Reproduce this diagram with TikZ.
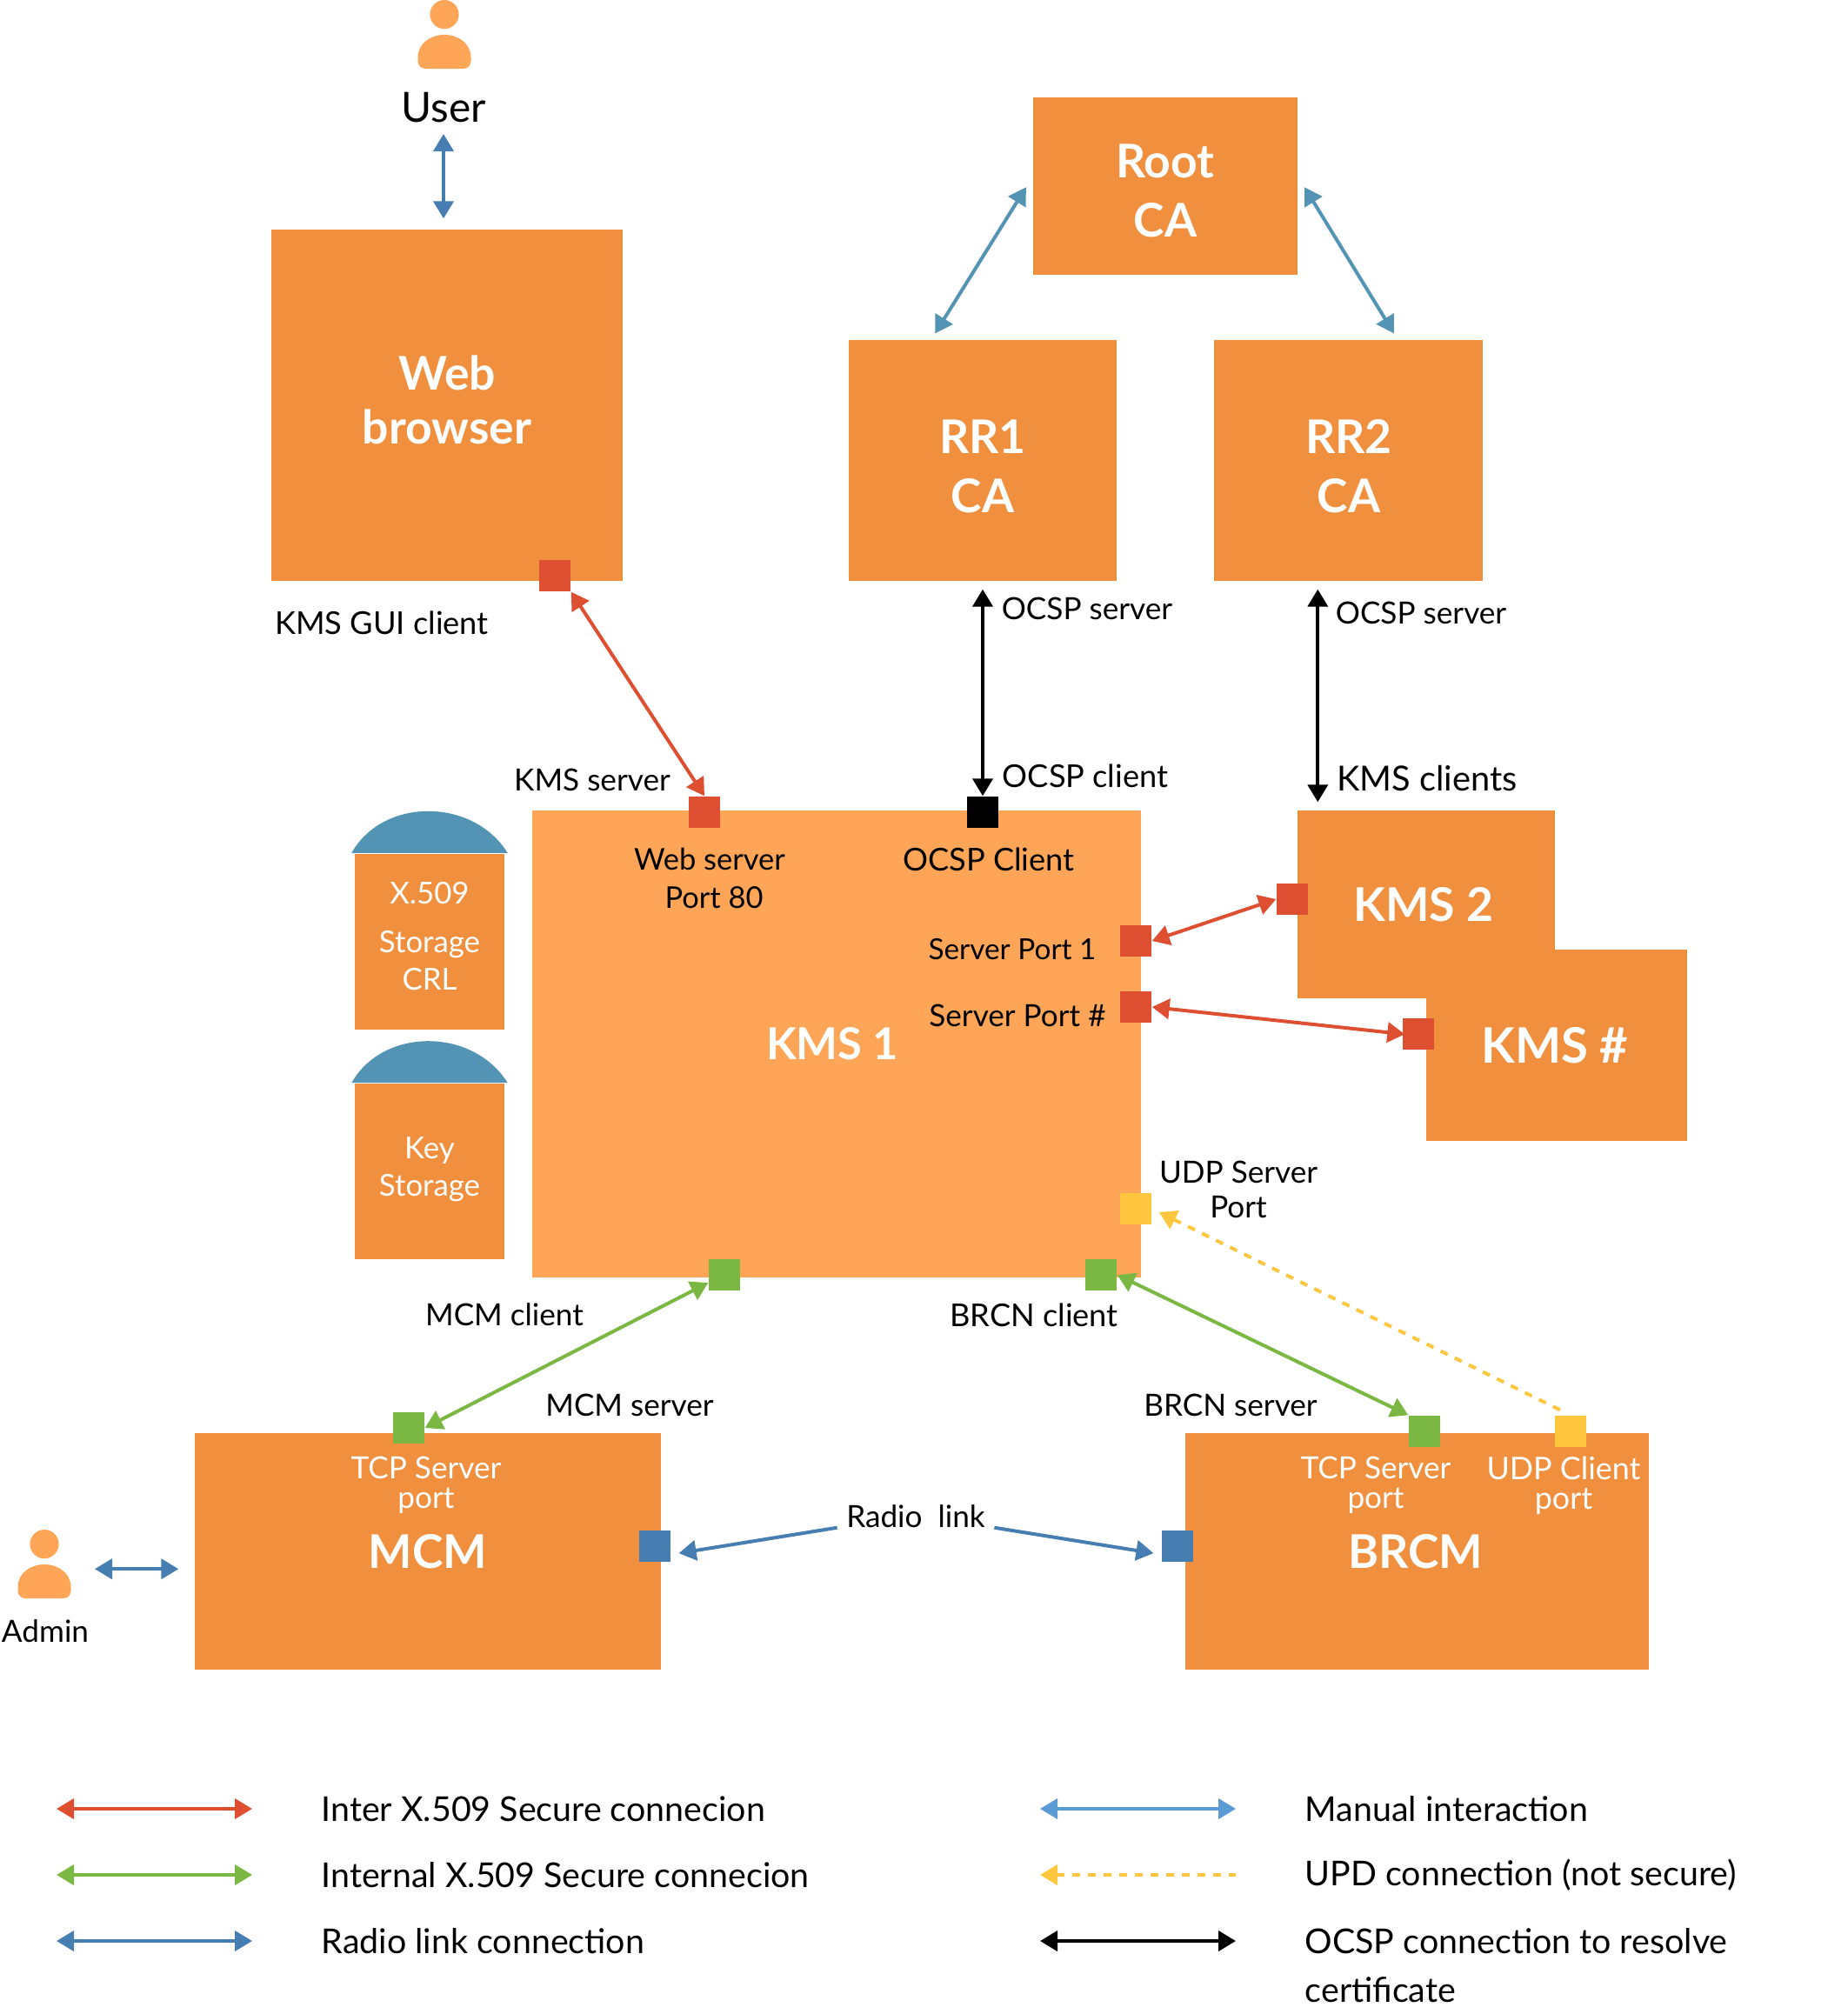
\documentclass[tikz,border=0pt]{standalone}
\usepackage{fontspec}
\setmainfont{Lato}
\usepackage{tikz}
\usetikzlibrary{positioning,arrows.meta,calc}
\definecolor{boxorange}{HTML}{F0903F}
\definecolor{kmsorange}{HTML}{FFA558}
\definecolor{domeblue}{HTML}{5394B4}
\definecolor{secred}{HTML}{DE4E31}
\definecolor{intgreen}{HTML}{7AB843}
\definecolor{udpyellow}{HTML}{FFC73F}
\definecolor{radioblue}{HTML}{467EB1}
\definecolor{manualblue}{HTML}{5B9BD5}

\begin{document}
\begin{tikzpicture}[
  x=1mm, y=-1mm,
  box/.style={fill=boxorange, inner sep=0pt, text=white, align=center, font=\fontsize{15.2}{19.3}\selectfont\bfseries},
  store/.style={box, minimum width=17.2mm, minimum height=20.2mm, font=\fontsize{9.9}{12.2}\selectfont},
  port/.style={minimum size=3.6mm, inner sep=0pt, fill=#1},
  lab/.style={font=\fontsize{10}{12.5}\selectfont, align=center, inner sep=0pt},
  labb/.style={lab, font=\fontsize{10.3}{12.5}\selectfont},
  wlab/.style={lab, text=white, font=\fontsize{10}{9.6}\selectfont},
  legtxt/.style={font=\fontsize{11.2}{16}\selectfont, align=left, inner sep=0pt},
  dome/.style={fill=domeblue},
  arr/.style={{Triangle[length=2mm,width=2.3mm]}-{Triangle[length=2mm,width=2.3mm]}, line width=0.4mm},
  onearr/.style={-{Triangle[length=2mm,width=2.3mm]}, line width=0.4mm},
  udparr/.style={{Triangle[length=2mm,width=2.3mm]}-, line width=0.4mm, dash pattern=on 0.9mm off 0.9mm},
  person/.pic={
    \fill[kmsorange] (0,1.66) circle (1.66mm);
    \fill[kmsorange] (-3.05,6.6) .. controls (-3.05,5) and (-1.6,4) .. (0,4)
      .. controls (1.6,4) and (3.05,5) .. (3.05,6.6) -- (3.05,7)
      .. controls (3.05,7.5) and (2.7,7.9) .. (2.2,7.9) -- (-2.2,7.9)
      .. controls (-2.7,7.9) and (-3.05,7.5) .. (-3.05,7) -- cycle;
  }]
\useasboundingbox (0,0) rectangle (212.4,231.6);
% people
\pic at (51.1,0) {person};
\node[lab, font=\fontsize{13.6}{15}\selectfont] (user) at (51,12.4) {User};
\pic at (5.1,175.9) {person};
\node[lab] (admin) at (5.2,187.6) {Admin};
% main boxes
\node[box, minimum width=40.4mm, minimum height=40.4mm, font=\fontsize{15.2}{17.6}\selectfont\bfseries] (web) at (51.4,46.6) {Web\\browser\rule[-1.2mm]{0pt}{0pt}};
\node[box, minimum width=30.4mm, minimum height=20.4mm] (root) at (134,21.4) {\rule{0pt}{5mm}Root\\CA};
\node[box, minimum width=30.8mm, minimum height=27.7mm] (rr1) at (113,52.95) {\rule{0pt}{5.2mm}RR1\\CA};
\node[box, minimum width=30.9mm, minimum height=27.7mm, right=11.1mm of rr1] (rr2) {\rule{0pt}{5.2mm}RR2\\CA};
\node[box, fill=kmsorange, minimum width=70mm, minimum height=53.7mm, font=\fontsize{14.4}{19}\selectfont\bfseries] (kms1) at (96.2,120.05) {KMS 1\hspace*{1mm}};
\node[box, minimum width=29.6mm, minimum height=21.6mm] (kms2) at (164,104) {KMS 2\hspace*{0.6mm}};
\node[box, minimum width=30mm, minimum height=22mm, font=\fontsize{16}{19}\selectfont\bfseries] (kmsn) at (179,120.2) {KMS \#\hspace*{0.4mm}};
\node[box, minimum width=53.6mm, minimum height=27.2mm] (mcm) at (49.2,178.4) {MCM};
\node[box, minimum width=53.3mm, minimum height=27.2mm] (brcm) at (162.95,178.4) {BRCM\hspace*{0.4mm}};
% storages
\node[store] (x509) at (49.4,108.25) {X.509\\[3.6pt]Storage\\CRL\rule[-1.2mm]{0pt}{0pt}};
\node[store, below=6.1mm of x509] (keyst) {Key\\Storage\rule[-1mm]{0pt}{0pt}};
\fill[dome] ([xshift=-0.3mm]x509.north west) .. controls +(3.6,-6.4) and +(-4,-6.4) .. ([xshift=0.3mm]x509.north east) -- cycle;
\fill[dome] ([xshift=-0.3mm]keyst.north west) .. controls +(3.6,-6.4) and +(-4,-6.4) .. ([xshift=0.3mm]keyst.north east) -- cycle;
% ports
\node[port=secred] (webc) at (63.8,66.2) {};
\node[port=secred] (webs) at (81,93.4) {};
\node[port=black] (ocspc) at (113,93.4) {};
\node[port=secred] (srv1) at (130.6,108.2) {};
\node[port=secred] (srvn) at (130.6,115.8) {};
\node[port=secred] (kms2p) at (148.6,103.4) {};
\node[port=secred] (kmsnp) at (163.1,118.9) {};
\node[port=udpyellow] (udps) at (130.6,139) {};
\node[port=intgreen] (mcmc) at (83.3,146.6) {};
\node[port=intgreen] (brcnc) at (126.6,146.6) {};
\node[port=intgreen] (mcmt) at (47,164.2) {};
\node[port=radioblue] (mcmr) at (75.3,177.8) {};
\node[port=radioblue] (brcmr) at (135.4,177.8) {};
\node[port=intgreen] (brcmt) at (163.8,164.6) {};
\node[port=udpyellow] (brcmu) at (180.6,164.6) {};
% labels
\node[labb] (guilab) at (43.9,71.6) {KMS GUI client};
\node[lab] (kmssrv) at (68.1,89.7) {KMS server};
\node[lab] (ocspsrv1) at (125,70) {OCSP server};
\node[labb] (ocspcl) at (124.8,89.2) {OCSP client};
\node[lab] (ocspsrv2) at (163.4,70.5) {OCSP server};
\node[lab, font=\fontsize{11.3}{13}\selectfont] (kmscl) at (164.1,89.5) {KMS clients};
\node[lab, font=\fontsize{9.8}{12.5}\selectfont] (webport) at (81.6,101) {Web server\\\hspace*{1mm}Port 80};
\node[labb] (ocsplab) at (113.7,98.8) {OCSP Client};
\node[lab, font=\fontsize{9.5}{12}\selectfont] (srv1lab) at (116.4,109.2) {Server Port 1};
\node[lab] (srvnlab) at (117,116.8) {Server Port \#};
\node[lab, font=\fontsize{10}{11.4}\selectfont] (udplab) at (142.4,136.8) {UDP Server\\Port};
\node[lab] (mcmcl) at (58,151.2) {MCM client};
\node[labb] (brcncl) at (118.9,151.2) {BRCN client};
\node[lab] (mcmsv) at (72.4,161.6) {MCM server};
\node[lab] (brcnsv) at (141.5,161.6) {BRCN server};
\node[wlab] (mcmtcp) at (49,170.8) {TCP Server\\port};
\node[wlab] (brcmtcp) at (158.2,170.8) {TCP Server\\port};
\node[wlab, font=\fontsize{10.2}{9.6}\selectfont] (brcmudp) at (179.8,170.8) {UDP Client\\port};
\node[lab, inner sep=1mm] (radio) at (105.3,174.4) {Radio\ \ link};
% connectors
\coordinate (kmstop) at ([xshift=2.4mm]kms2.north west);
\draw[arr, radioblue, shorten <=1.2mm, shorten >=1.2mm] (user.south) -- (user.south|-web.north);
\draw[arr, radioblue, shorten >=1.8mm] (admin.north)+(5.7,-5.8) coordinate (admina) -- (admina-|mcm.west);
\draw[arr, domeblue, shorten <=1.4mm, shorten >=0.8mm] (root.176) -- (rr1.113);
\draw[arr, domeblue, shorten <=1.4mm, shorten >=0.8mm] (root.4) -- (rr2.68);
\draw[arr, black, shorten <=0.9mm] (rr1.south) -- (ocspc.north);
\draw[arr, black, shorten <=0.9mm, shorten >=0.9mm] (kmstop|-rr2.south) -- (kmstop);
\draw[arr, secred] (webc.south east) -- (webs.north);
\draw[arr, secred] (srv1.east) -- (kms2p.west);
\draw[arr, secred, shorten >=-0.3mm] (srvn.east) -- (kmsnp.west);
\draw[arr, intgreen] (mcmc.206) -- (mcmt.east);
\draw[arr, intgreen] (brcnc.east) -- (brcmt.north west);
\draw[udparr, udpyellow, shorten <=0.9mm, shorten >=0.9mm] (udps.east) -- (brcmu.north);
\draw[onearr, radioblue, shorten >=0.9mm] (radio.188) -- (mcmr.-27);
\draw[onearr, radioblue, shorten >=0.9mm] (radio.352) -- (brcmr.207);
% legend
\coordinate (leg1a) at (6.5,208);
\coordinate (leg1b) at (29,208);
\coordinate (leg2a) at (6.5,215.6);
\coordinate (leg2b) at (29,215.6);
\coordinate (leg3a) at (6.5,223.2);
\coordinate (leg3b) at (29,223.2);
\coordinate (leg4a) at (119.6,208);
\coordinate (leg4b) at (142.1,208);
\coordinate (leg5a) at (119.6,215.6);
\coordinate (leg5b) at (142.1,215.6);
\coordinate (leg6a) at (119.6,223.2);
\coordinate (leg6b) at (142.1,223.2);
\draw[arr, secred] (leg1a) -- (leg1b);
\draw[arr, intgreen] (leg2a) -- (leg2b);
\draw[arr, radioblue] (leg3a) -- (leg3b);
\draw[arr, manualblue] (leg4a) -- (leg4b);
\draw[udparr, udpyellow] (leg5a) -- (leg5b);
\draw[arr, black] (leg6a) -- (leg6b);
\node[legtxt, right=7.9mm of leg1b] (leg1) {Inter X.509 Secure connecion};
\node[legtxt, right=7.9mm of leg2b] (leg2) {Internal X.509 Secure connecion};
\node[legtxt, right=7.9mm of leg3b] (leg3) {Radio link connection};
\node[legtxt, right=7.9mm of leg4b] (leg4) {Manual interaction};
\node[legtxt, right=7.9mm of leg5b] (leg5) {UPD connection (not secure)};
\node[legtxt, right=7.9mm of leg6b, yshift=-2.8mm] (leg6) {OCSP connection to resolve\\certificate};
\end{tikzpicture}
\end{document}
